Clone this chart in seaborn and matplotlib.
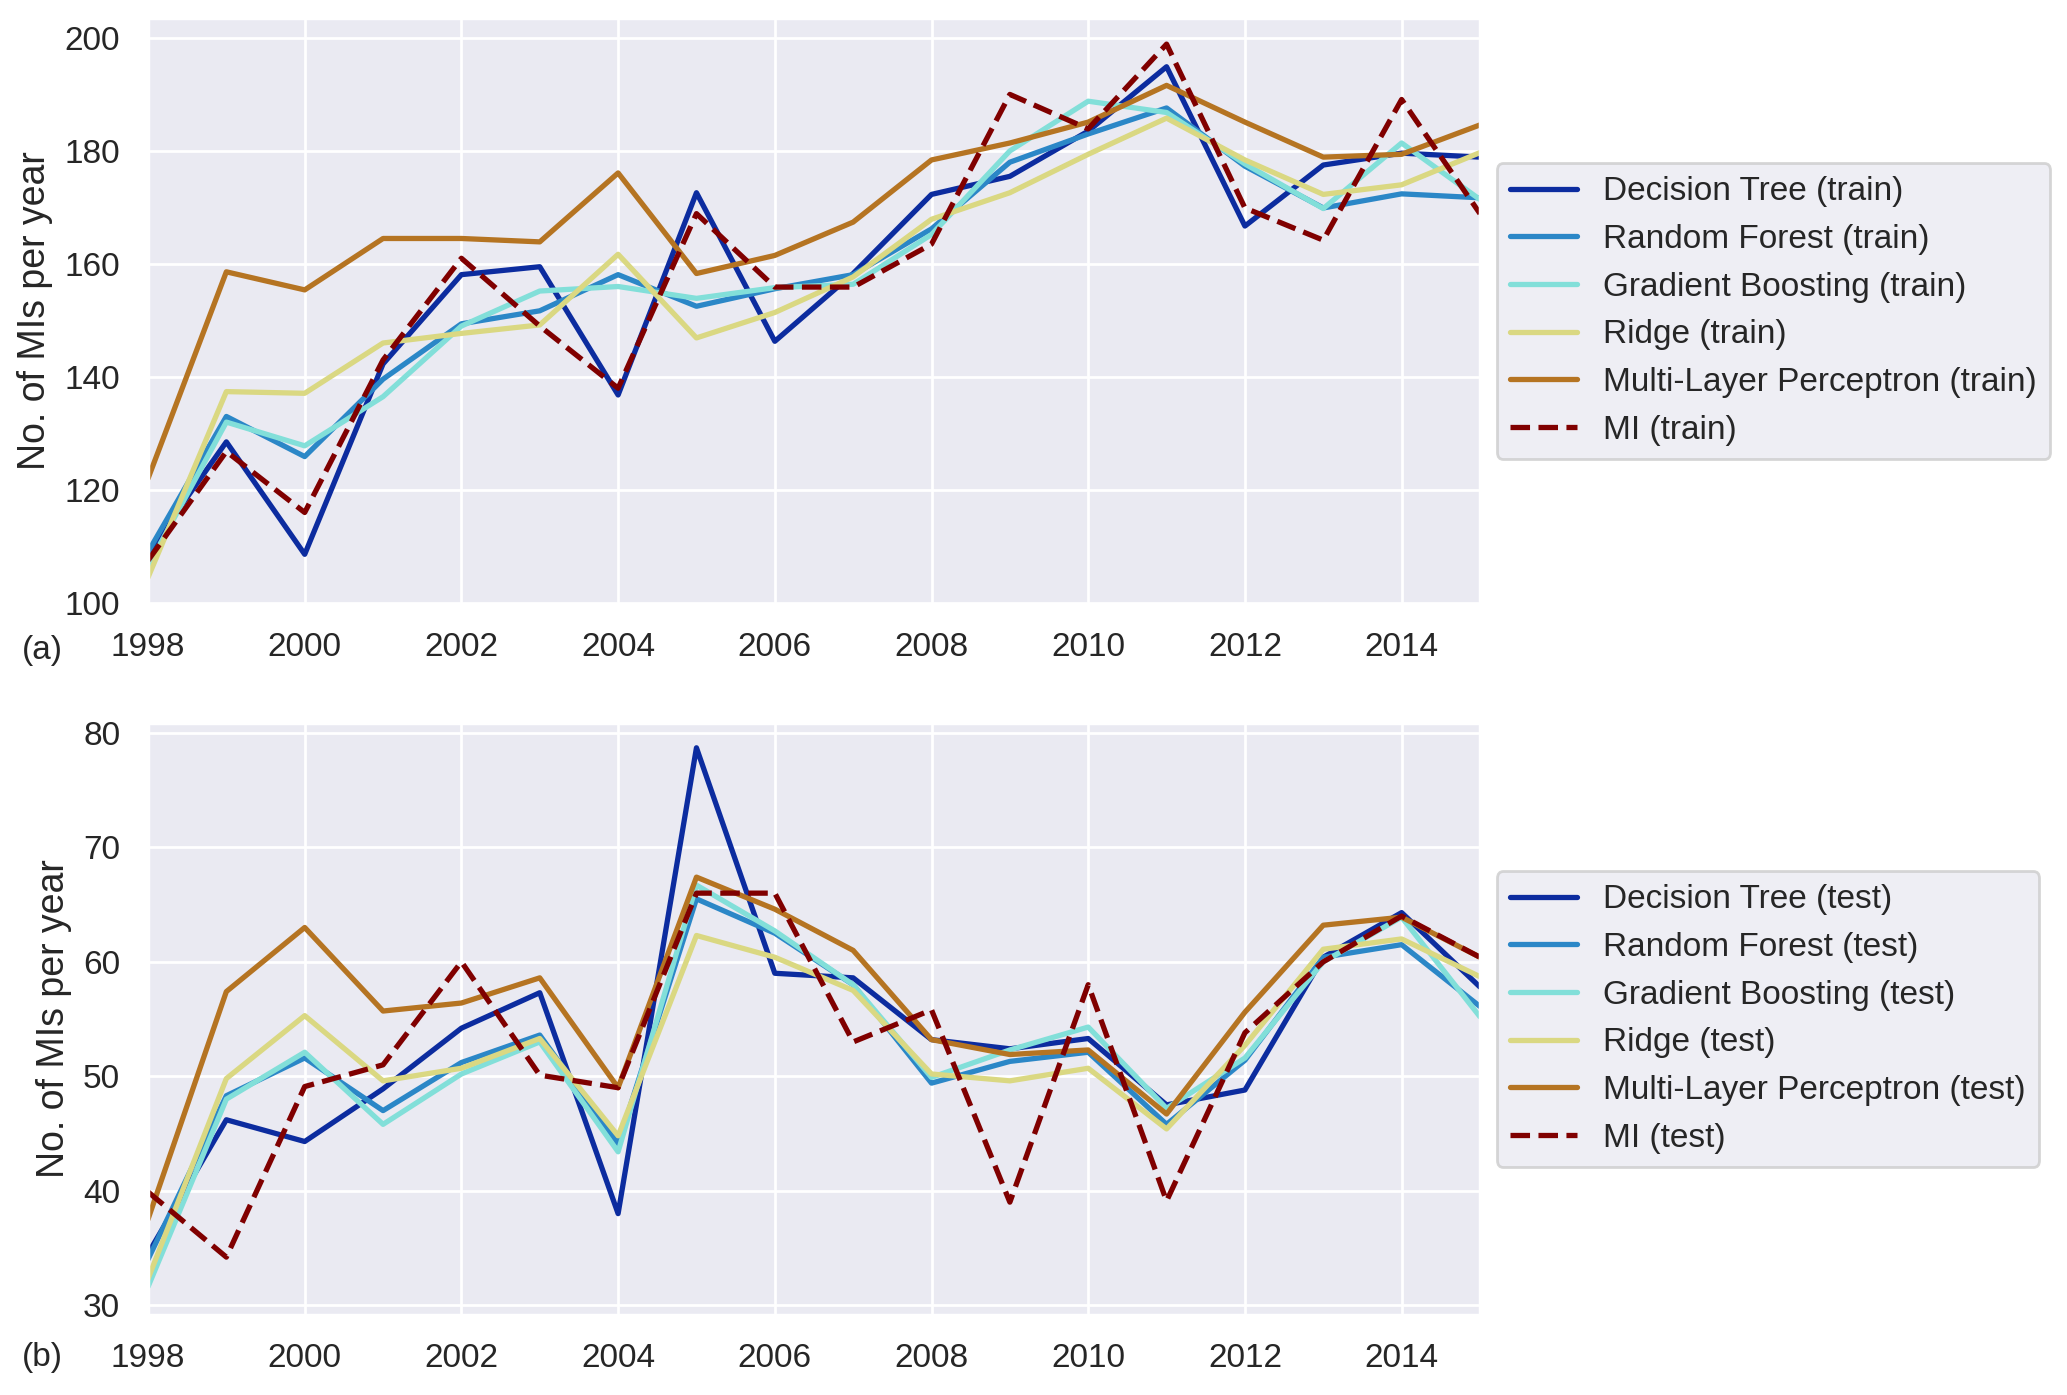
import matplotlib
matplotlib.use('Agg')
import matplotlib.pyplot as plt
import seaborn as sns

# Years on the x axis
years = [1998, 1999, 2000, 2001, 2002, 2003, 2004, 2005, 2006,
         2007, 2008, 2009, 2010, 2011, 2012, 2013, 2014, 2015]

models = ['Decision Tree', 'Random Forest', 'Gradient Boosting',
          'Ridge', 'Multi-Layer Perceptron', 'MI']
colors = ['#0c2c9f', '#2b87c7', '#82dfd9', '#dad882', '#b57422', '#800000']
styles = ['-', '-', '-', '-', '-', '--']

# (a) training period
dt_train = [108.9, 128.5, 108.6, 142.3, 158.1, 159.5, 136.8, 172.6, 146.3,
            158.3, 172.3, 175.5, 183.5, 194.9, 166.7, 177.5, 179.6, 178.9]
rf_train = [109.0, 133.0, 125.9, 139.6, 149.4, 151.7, 158.1, 152.5, 155.6,
            158.1, 166.2, 178.0, 183.0, 187.6, 177.3, 169.9, 172.4, 171.7]
gb_train = [106.5, 132.0, 127.8, 136.5, 149.0, 155.2, 156.0, 153.9, 155.8,
            156.4, 165.2, 180.0, 188.8, 186.8, 177.7, 169.8, 181.4, 171.4]
ridge_train = [104.5, 137.4, 137.1, 146.0, 147.7, 149.2, 161.7, 146.9, 151.4,
               157.7, 167.9, 172.6, 179.4, 185.8, 178.4, 172.3, 174.0, 179.7]
mlp_train = [122.0, 158.6, 155.4, 164.5, 164.5, 163.9, 176.1, 158.3, 161.5,
             167.4, 178.4, 181.4, 185.1, 191.6, 185.1, 178.9, 179.4, 184.6]
mi_train = [107.5, 126.8, 116.0, 143.0, 161.0, 149.0, 138.0, 168.9, 155.9,
            155.9, 163.5, 190.0, 183.9, 198.9, 169.9, 164.2, 189.1, 168.9]

# (b) test period
dt_test = [34.5, 46.2, 44.3, 48.9, 54.2, 57.3, 38.0, 78.7, 59.0,
           58.6, 53.2, 52.4, 53.3, 47.5, 48.8, 60.4, 64.3, 57.8]
rf_test = [34.0, 48.3, 51.6, 47.0, 51.2, 53.6, 44.1, 65.5, 62.5,
           58.0, 49.4, 51.3, 52.1, 45.8, 51.4, 60.4, 61.5, 56.1]
gb_test = [31.6, 48.0, 52.1, 45.8, 50.2, 53.0, 43.4, 66.7, 62.7,
           58.0, 49.9, 52.3, 54.3, 47.2, 51.6, 60.0, 63.9, 55.2]
ridge_test = [32.3, 49.8, 55.3, 49.6, 50.7, 53.3, 44.8, 62.3, 60.4,
              57.5, 50.2, 49.6, 50.7, 45.4, 52.7, 61.1, 62.0, 58.7]
mlp_test = [37.5, 57.4, 63.0, 55.7, 56.4, 58.6, 49.0, 67.4, 64.6,
            61.0, 53.2, 51.9, 52.3, 46.7, 55.6, 63.2, 63.9, 60.4]
mi_test = [39.9, 34.2, 49.1, 51.0, 60.0, 50.1, 49.0, 66.0, 66.0,
           53.0, 55.8, 39.0, 58.0, 39.1, 53.8, 60.0, 64.0, 60.4]

train_series = [dt_train, rf_train, gb_train, ridge_train, mlp_train, mi_train]
test_series = [dt_test, rf_test, gb_test, ridge_test, mlp_test, mi_test]

sns.set_theme(style='darkgrid')
plt.rcParams['font.family'] = ['Liberation Sans', 'DejaVu Sans']

fig = plt.figure(figsize=(10.335, 6.975), dpi=200)
ax1 = fig.add_axes([0.0716, 0.567, 0.6444, 0.42])
ax2 = fig.add_axes([0.0716, 0.057, 0.6444, 0.425])


def draw_panel(ax, series, tag, ylim, yticks):
    for name, vals, c, ls in zip(models, series, colors, styles):
        sns.lineplot(x=years, y=vals, ax=ax, color=c, linestyle=ls,
                     linewidth=1.9, label=f'{name} ({tag})')
    ax.set_xlim(1998, 2015)
    ax.set_ylim(*ylim)
    ax.set_xticks([1998, 2000, 2002, 2004, 2006, 2008, 2010, 2012, 2014])
    ax.set_yticks(yticks)
    ax.tick_params(labelsize=12, pad=4)
    ax.set_ylabel('No. of MIs per year', fontsize=13.5)
    ax.legend(loc='center left', bbox_to_anchor=(1.0, 0.5), fontsize=12)


draw_panel(ax1, train_series, 'train', (99.8, 203.5), [100, 120, 140, 160, 180, 200])
draw_panel(ax2, test_series, 'test', (29.1, 80.9), [30, 40, 50, 60, 70, 80])

fig.text(0.0205, 0.534, '(a)', fontsize=12, color='.15', ha='center', va='center')
fig.text(0.0205, 0.027, '(b)', fontsize=12, color='.15', ha='center', va='center')

fig.savefig('out.png', dpi=200)
plt.close(fig)
